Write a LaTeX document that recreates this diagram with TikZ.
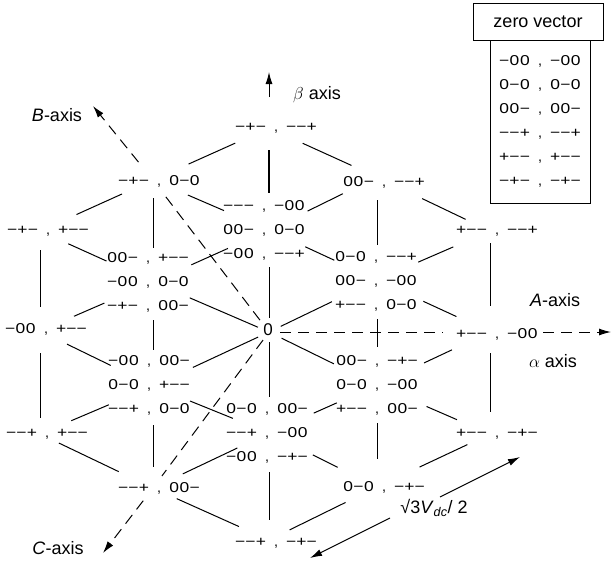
\documentclass[tikz,border=0pt]{standalone}
\usepackage{fontspec}
\usepackage{graphicx}
\setmainfont{Liberation Sans}
\usetikzlibrary{arrows.meta}

% one switching state: three wide signs in fixed-width cells
\newcommand\sgnbox[1]{\makebox[10.3pt][c]{\scalebox{1.22}[1]{#1}}}
\def\signtriple#1#2#3{\sgnbox{#1}\sgnbox{#2}\sgnbox{#3}}
% a pair of states "abc , def"
\newcommand\sv[2]{\signtriple#1\makebox[20pt][c]{,}\signtriple#2}

\begin{document}
\begin{tikzpicture}[x=1pt,y=-1pt,
  seg/.style={line width=1pt},
  svtext/.style={font=\fontsize{14.3}{24}\selectfont, inner sep=0pt, align=center},
  ann/.style={font=\fontsize{18}{22}\selectfont, inner sep=0pt},
  axisline/.style={line width=1pt, dash pattern=on 11pt off 7pt},
  axtip/.style={-{Latex[length=12pt,width=7pt]}}
]
\useasboundingbox (0,0) rectangle (612,565);

% lattice points of the vector diagram
\coordinate (T)    at (269,128);
\coordinate (UL1)  at (153,180);
\coordinate (UR1)  at (377,177);
\coordinate (L2U)  at (40,231);
\coordinate (R2U)  at (490,231);
\coordinate (G90)  at (269,230);
\coordinate (G150) at (153,282);
\coordinate (G30)  at (377,280);
\coordinate (O)    at (269,332);
\coordinate (L0)   at (40,331);
\coordinate (R0)   at (490,332);
\coordinate (G210) at (153,386);
\coordinate (G330) at (377,385);
\coordinate (L2D)  at (40,434);
\coordinate (R2D)  at (490,434);
\coordinate (G270) at (269,433);
\coordinate (DL1)  at (153,488);
\coordinate (DR1)  at (377,487);
\coordinate (B)    at (269,540);

% free ends of the arrows
\coordinate (Btip) at (93,106);
\coordinate (Ctip) at (103,553);
\coordinate (Atip) at (611,332);
\coordinate (betaS) at (269,97);
\coordinate (betaE) at (269,72);
\coordinate (d1s) at (440,497);
\coordinate (d1e) at (520,457);
\coordinate (d2s) at (390,518);
\coordinate (d2e) at (310,558);

% state labels
\node[svtext] (tT)   at (276,128) {\sv{−+−}{−−+}};
\node[svtext] (tUL1) at (159,181) {\sv{−+−}{0−0}};
\node[svtext] (tUR1) at (384,182) {\sv{00−}{−−+}};
\node[svtext] (tL2U) at (48,231)  {\sv{−+−}{+−−}};
\node[svtext] (tR2U) at (497,231) {\sv{+−−}{−−+}};
\node[svtext] (tG90) at (264,230) {\sv{−−−}{−00}\\\sv{00−}{0−0}\\\sv{−00}{−−+}};
\node[svtext] (tG150) at (148,282) {\sv{00−}{+−−}\\\sv{−00}{0−0}\\\sv{−+−}{00−}};
\node[svtext] (tG30) at (376,281) {\sv{0−0}{−−+}\\\sv{00−}{−00}\\\sv{+−−}{0−0}};
\node[font=\fontsize{17}{20}\selectfont, inner sep=0pt] (tO) at (268,330) {0};
\node[svtext] (tL0)  at (46,329)  {\sv{−00}{+−−}};
\node[svtext] (tR0)  at (497,334) {\sv{+−−}{−00}};
\node[svtext] (tG210) at (149,385) {\sv{−00}{00−}\\\sv{0−0}{+−−}\\\sv{−−+}{0−0}};
\node[svtext] (tG330) at (377,385) {\sv{00−}{−+−}\\\sv{0−0}{−00}\\\sv{+−−}{00−}};
\node[svtext] (tL2D) at (47,434)  {\sv{−−+}{+−−}};
\node[svtext] (tR2D) at (497,434) {\sv{+−−}{−+−}};
\node[svtext] (tG270) at (267,433) {\sv{0−0}{00−}\\\sv{−−+}{−00}\\\sv{−00}{−+−}};
\node[svtext] (tDL1) at (159,488) {\sv{−−+}{00−}};
\node[svtext] (tDR1) at (384,487) {\sv{0−0}{−+−}};
\node[svtext] (tB)   at (276,543) {\sv{−−+}{−+−}};

% lattice edges
\draw[seg,shorten <=37pt,shorten >=39pt] (T) -- (UL1);
\draw[seg,shorten <=37pt,shorten >=28pt] (T) -- (UR1);
\draw[seg,line width=2.2pt,shorten <=22pt,shorten >=37pt] (T) -- (G90);
\draw[seg,shorten <=34pt,shorten >=40pt] (UL1) -- (L2U);
\draw[seg,shorten <=38pt,shorten >=49pt] (UL1) -- (G90);
\draw[seg,shorten <=18pt,shorten >=34pt] (UL1) -- (G150);
\draw[seg,shorten <=38pt,shorten >=43pt] (UR1) -- (G90);
\draw[seg,shorten <=50pt,shorten >=27pt] (UR1) -- (R2U);
\draw[seg,shorten <=23pt,shorten >=35pt] (UR1) -- (G30);
\draw[seg,shorten <=19pt,shorten >=24pt] (L2U) -- (L0);
\draw[seg,shorten <=31pt,shorten >=51pt] (L2U) -- (G150);
\draw[seg,shorten <=42pt,shorten >=45pt] (G150) -- (G90);
\draw[seg,shorten <=53pt,shorten >=37pt] (G150) -- (L0);
\draw[seg,shorten <=40pt,shorten >=12pt] (G150) -- (O);
\draw[seg,shorten <=38pt,shorten >=36pt] (G150) -- (G210);
\draw[seg,shorten <=40pt,shorten >=47pt] (G90) -- (G30);
\draw[seg,shorten <=37pt,shorten >=14pt] (G90) -- (O);
\draw[seg,shorten <=45pt,shorten >=40pt] (G30) -- (R2U);
\draw[seg,shorten <=50pt,shorten >=13pt] (G30) -- (O);
\draw[seg,shorten <=51pt,shorten >=37pt] (G30) -- (R0);
\draw[seg,shorten <=39pt,shorten >=38pt] (G30) -- (G330);
\draw[seg,shorten <=12pt,shorten >=26pt] (R2U) -- (R0);
\draw[seg,shorten <=30pt,shorten >=47pt] (L0) -- (G210);
\draw[seg,shorten <=22pt,shorten >=16pt] (L0) -- (L2D);
\draw[seg,shorten <=12pt,shorten >=44pt] (O) -- (G210);
\draw[seg,shorten <=10pt,shorten >=36pt] (O) -- (G270);
\draw[seg,shorten <=14pt,shorten >=48pt] (O) -- (G330);
\draw[seg,shorten <=42pt,shorten >=52pt] (R0) -- (G330);
\draw[seg,shorten <=21pt,shorten >=22pt] (R0) -- (R2D);
\draw[seg,shorten <=48pt,shorten >=34pt] (G210) -- (L2D);
\draw[seg,shorten <=40pt,shorten >=39pt] (G210) -- (G270);
\draw[seg,shorten <=39pt,shorten >=21pt] (G210) -- (DL1);
\draw[seg,shorten <=44pt,shorten >=49pt] (G330) -- (G270);
\draw[seg,shorten <=54pt,shorten >=36pt] (G330) -- (R2D);
\draw[seg,shorten <=38pt,shorten >=28pt] (G330) -- (DR1);
\draw[seg,shorten <=21pt,shorten >=38pt] (L2D) -- (DL1);
\draw[seg,shorten <=35pt,shorten >=33pt] (G270) -- (DL1);
\draw[seg,shorten <=49pt,shorten >=44pt] (G270) -- (DR1);
\draw[seg,shorten <=39pt,shorten >=20pt] (G270) -- (B);
\draw[seg,shorten <=25pt,shorten >=47pt] (R2D) -- (DR1);
\draw[seg,shorten <=26pt,shorten >=33pt] (DL1) -- (B);
\draw[seg,shorten <=35pt,shorten >=23pt] (DR1) -- (B);

% phase axes
\draw[axisline,shorten <=11pt,shorten >=47pt] (O) -- (R0);
\draw[axisline,axtip,shorten <=53pt] (R0) -- (Atip);
\draw[axisline,shorten <=15pt,shorten >=17pt] (O) -- (UL1);
\draw[axisline,axtip,shorten <=23pt] (UL1) -- (Btip);
\draw[axisline,shorten <=10pt,shorten >=15pt] (O) -- (DL1);
\draw[axisline,axtip,shorten <=16pt] (DL1) -- (Ctip);
\draw[seg,axtip] (betaS) -- (betaE);

% axis names
\node[ann] (tBeta)  at (317,95)  {$\beta$ axis};
\node[ann] (tBaxis) at (57,115)  {\textit{B}-axis};
\node[ann] (tAaxis) at (555,300) {\textit{A}-axis};
\node[ann] (tAlpha) at (553,361) {$\alpha$ axis};
\node[ann] (tCaxis) at (58,548)  {\textit{C}-axis};

% length of the medium vector
\node[ann] (tDim) at (434,508) {√3\textit{V}\textsubscript{\textit{dc}}/ 2};
\draw[seg,axtip] (d1s) -- (d1e);
\draw[seg,axtip] (d2s) -- (d2e);

% table of zero-vector states
\node[draw, line width=1pt, ann, minimum width=130pt, minimum height=37pt] (zhead) at (538,21.5) {zero vector};
\node[draw, line width=1pt, svtext, minimum width=100pt, minimum height=163pt] (zbody) at (540,121.5)
  {\sv{−00}{−00}\\\sv{0−0}{0−0}\\\sv{00−}{00−}\\\sv{−−+}{−−+}\\\sv{+−−}{+−−}\\\sv{−+−}{−+−}};
\end{tikzpicture}
\end{document}
